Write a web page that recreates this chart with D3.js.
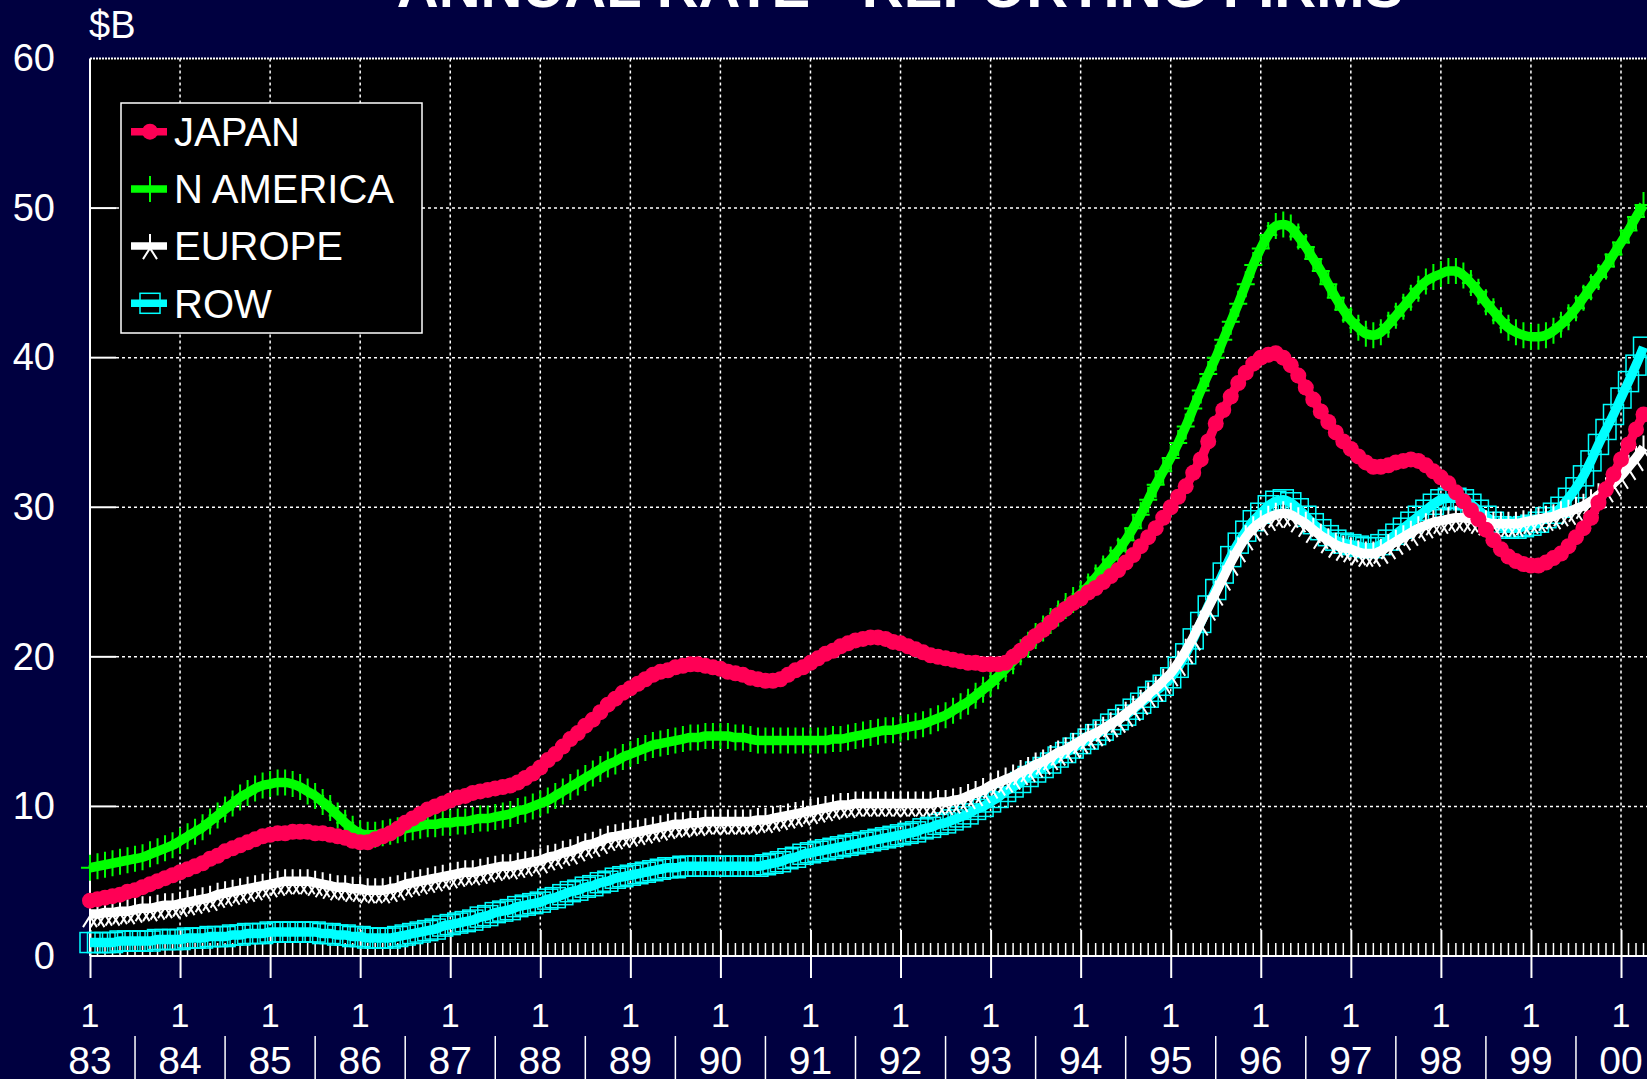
<!DOCTYPE html>
<html>
<head>
<meta charset="utf-8">
<script src="https://cdn.jsdelivr.net/npm/d3@7"></script>
<style>
  html, body { margin: 0; padding: 0; background: #000040; overflow: hidden; }
  svg { display: block; font-family: "Liberation Sans", Arial, sans-serif; }
</style>
</head>
<body>
<svg id="chart" width="1647" height="1079"></svg>
<script>
// ---- chart text ----
const title = "ANNUAL RATE - REPORTING FIRMS";
const unitLabel = "$B";
const monthLabel = "1";
const yearLabels = ["83","84","85","86","87","88","89","90","91","92","93","94","95","96","97","98","99","00"];
const yTicks = [0, 10, 20, 30, 40, 50, 60];
const startYear = 1983;

// ---- monthly annual-rate values, $B, January 1983 onward ----
const japan = [
  3.7, 3.8, 3.9, 4.0, 4.1, 4.3, 4.4, 4.6, 4.8, 5.0, 5.2, 5.4,
  5.6, 5.8, 6.0, 6.2, 6.5, 6.7, 7.0, 7.2, 7.4, 7.6, 7.8, 8.0,
  8.1, 8.2, 8.2, 8.3, 8.3, 8.3, 8.2, 8.2, 8.1, 8.0, 7.9, 7.7,
  7.6, 7.6, 7.8, 8.0, 8.2, 8.5, 8.9, 9.2, 9.5, 9.8, 10.0, 10.2,
  10.4, 10.6, 10.7, 10.9, 11.0, 11.1, 11.2, 11.3, 11.4, 11.6, 11.9, 12.2,
  12.6, 13.1, 13.5, 14.0, 14.5, 14.9, 15.4, 15.8, 16.3, 16.8, 17.2, 17.6,
  17.9, 18.2, 18.5, 18.8, 19.0, 19.1, 19.3, 19.4, 19.5, 19.5, 19.4, 19.3,
  19.2, 19.0, 18.9, 18.8, 18.6, 18.5, 18.4, 18.4, 18.5, 18.8, 19.1, 19.3,
  19.6, 19.9, 20.2, 20.4, 20.7, 20.9, 21.1, 21.2, 21.3, 21.3, 21.2, 21.0,
  20.9, 20.7, 20.5, 20.3, 20.1, 20.0, 19.9, 19.8, 19.7, 19.6, 19.6, 19.5,
  19.5, 19.5, 19.6, 20.0, 20.4, 20.9, 21.4, 21.8, 22.3, 22.8, 23.2, 23.6,
  23.9, 24.3, 24.6, 25.0, 25.4, 25.8, 26.3, 26.8, 27.4, 28.0, 28.6, 29.3,
  30.0, 30.7, 31.4, 32.3, 33.2, 34.4, 35.6, 36.5, 37.4, 38.3, 39.0, 39.6,
  40.0, 40.2, 40.3, 40.0, 39.5, 38.8, 38.0, 37.2, 36.4, 35.7, 35.0, 34.4,
  33.9, 33.4, 33.0, 32.7, 32.7, 32.8, 33.0, 33.1, 33.2, 33.1, 32.8, 32.4,
  32.0, 31.6, 31.0, 30.4, 29.8, 29.2, 28.5, 27.8, 27.2, 26.7, 26.4, 26.2,
  26.1, 26.1, 26.3, 26.6, 26.9, 27.4, 28.0, 28.6, 29.3, 30.3, 31.2, 32.2,
  33.2, 34.2, 35.2, 36.2
];

const nAmerica = [
  5.9, 6.0, 6.1, 6.2, 6.3, 6.4, 6.5, 6.6, 6.8, 7.0, 7.2, 7.4,
  7.7, 8.0, 8.3, 8.6, 9.0, 9.4, 9.8, 10.2, 10.6, 10.9, 11.2, 11.4,
  11.5, 11.6, 11.6, 11.5, 11.3, 11.0, 10.7, 10.3, 9.9, 9.4, 8.9, 8.5,
  8.2, 8.1, 8.1, 8.2, 8.3, 8.4, 8.5, 8.6, 8.7, 8.8, 8.8, 8.9,
  8.9, 9.0, 9.0, 9.1, 9.2, 9.2, 9.3, 9.4, 9.5, 9.7, 9.8, 10.0,
  10.2, 10.4, 10.7, 11.0, 11.3, 11.6, 11.9, 12.2, 12.5, 12.8, 13.0, 13.3,
  13.5, 13.7, 13.9, 14.1, 14.2, 14.3, 14.4, 14.5, 14.6, 14.6, 14.7, 14.7,
  14.7, 14.7, 14.6, 14.6, 14.5, 14.4, 14.4, 14.4, 14.4, 14.4, 14.4, 14.4,
  14.4, 14.4, 14.4, 14.5, 14.5, 14.6, 14.7, 14.8, 14.9, 15.0, 15.1, 15.1,
  15.2, 15.3, 15.4, 15.5, 15.7, 15.9, 16.1, 16.4, 16.7, 17.0, 17.4, 17.8,
  18.2, 18.7, 19.2, 19.7, 20.3, 20.8, 21.4, 21.9, 22.4, 22.9, 23.4, 23.8,
  24.2, 24.7, 25.3, 25.9, 26.5, 27.1, 27.8, 28.6, 29.5, 30.5, 31.5, 32.4,
  33.3, 34.3, 35.4, 36.6, 37.8, 38.9, 40.0, 41.2, 42.4, 43.6, 44.9, 46.2,
  47.3, 48.2, 48.8, 48.9, 48.7, 48.1, 47.4, 46.6, 45.8, 44.9, 44.0, 43.2,
  42.5, 42.0, 41.6, 41.5, 41.7, 42.2, 42.8, 43.4, 44.0, 44.6, 45.1, 45.4,
  45.6, 45.8, 45.8, 45.5, 45.0, 44.4, 43.7, 43.1, 42.5, 42.0, 41.7, 41.5,
  41.4, 41.4, 41.5, 41.8, 42.2, 42.7, 43.3, 44.0, 44.7, 45.4, 46.1, 46.9,
  47.7, 48.5, 49.4, 50.2
];

const europe = [
  2.8, 2.8, 2.9, 2.9, 3.0, 3.0, 3.1, 3.2, 3.2, 3.3, 3.4, 3.4,
  3.5, 3.6, 3.7, 3.8, 3.9, 4.1, 4.2, 4.3, 4.4, 4.5, 4.6, 4.7,
  4.8, 4.9, 5.0, 5.0, 5.0, 5.0, 4.9, 4.8, 4.7, 4.6, 4.6, 4.5,
  4.5, 4.4, 4.4, 4.4, 4.5, 4.6, 4.8, 4.9, 5.0, 5.1, 5.2, 5.3,
  5.4, 5.5, 5.6, 5.6, 5.7, 5.8, 5.9, 6.0, 6.0, 6.1, 6.2, 6.3,
  6.4, 6.6, 6.7, 6.9, 7.0, 7.2, 7.4, 7.5, 7.7, 7.9, 8.0, 8.1,
  8.2, 8.3, 8.4, 8.5, 8.6, 8.7, 8.8, 8.8, 8.9, 8.9, 9.0, 9.0,
  9.0, 9.0, 9.0, 9.0, 9.0, 9.1, 9.1, 9.2, 9.3, 9.4, 9.5, 9.6,
  9.7, 9.8, 9.9, 10.0, 10.1, 10.1, 10.2, 10.2, 10.2, 10.2, 10.2, 10.2,
  10.2, 10.2, 10.2, 10.2, 10.2, 10.3, 10.3, 10.4, 10.5, 10.7, 10.9, 11.1,
  11.4, 11.6, 11.8, 12.0, 12.3, 12.5, 12.8, 13.0, 13.3, 13.6, 13.8, 14.1,
  14.4, 14.7, 14.9, 15.2, 15.5, 15.8, 16.2, 16.6, 17.0, 17.5, 17.9, 18.4,
  18.9, 19.6, 20.4, 21.3, 22.3, 23.3, 24.3, 25.3, 26.3, 27.2, 28.0, 28.6,
  29.0, 29.3, 29.5, 29.6, 29.5, 29.2, 28.9, 28.5, 28.1, 27.8, 27.5, 27.3,
  27.2, 27.0, 26.9, 26.9, 27.1, 27.4, 27.7, 28.0, 28.3, 28.6, 28.8, 29.0,
  29.1, 29.2, 29.3, 29.3, 29.2, 29.1, 29.0, 28.9, 28.9, 28.9, 28.9, 29.0,
  29.1, 29.2, 29.3, 29.4, 29.6, 29.7, 29.9, 30.1, 30.4, 30.8, 31.2, 31.6,
  32.1, 32.7, 33.3, 34.0
];

const row = [
  0.9, 0.9, 0.9, 0.9, 1.0, 1.0, 1.0, 1.0, 1.0, 1.1, 1.1, 1.1,
  1.1, 1.2, 1.2, 1.2, 1.3, 1.3, 1.3, 1.4, 1.4, 1.5, 1.5, 1.5,
  1.6, 1.6, 1.6, 1.6, 1.6, 1.6, 1.6, 1.5, 1.5, 1.4, 1.4, 1.3,
  1.3, 1.2, 1.2, 1.2, 1.2, 1.3, 1.4, 1.5, 1.6, 1.7, 1.8, 2.0,
  2.1, 2.2, 2.3, 2.4, 2.6, 2.7, 2.9, 3.0, 3.1, 3.3, 3.4, 3.5,
  3.6, 3.8, 3.9, 4.1, 4.3, 4.4, 4.6, 4.7, 4.9, 5.0, 5.2, 5.3,
  5.4, 5.5, 5.6, 5.7, 5.8, 5.9, 5.9, 6.0, 6.0, 6.0, 6.0, 6.0,
  6.0, 6.0, 6.0, 6.0, 6.0, 6.0, 6.1, 6.2, 6.3, 6.5, 6.6, 6.8,
  6.9, 7.0, 7.1, 7.2, 7.3, 7.4, 7.5, 7.6, 7.7, 7.8, 7.9, 8.0,
  8.1, 8.2, 8.3, 8.5, 8.6, 8.8, 8.9, 9.1, 9.3, 9.5, 9.8, 10.0,
  10.3, 10.6, 11.0, 11.3, 11.6, 12.0, 12.3, 12.6, 12.9, 13.3, 13.6, 13.9,
  14.2, 14.5, 14.8, 15.1, 15.5, 15.8, 16.1, 16.5, 16.9, 17.3, 17.7, 18.1,
  18.6, 19.3, 20.2, 21.2, 22.3, 23.4, 24.5, 25.6, 26.7, 27.6, 28.4, 29.1,
  29.6, 30.1, 30.4, 30.5, 30.3, 29.9, 29.4, 28.9, 28.5, 28.1, 27.8, 27.6,
  27.5, 27.4, 27.3, 27.3, 27.5, 27.8, 28.2, 28.6, 29.0, 29.4, 29.8, 30.2,
  30.5, 30.6, 30.6, 30.5, 30.2, 29.8, 29.4, 29.0, 28.7, 28.6, 28.6, 28.7,
  28.8, 29.0, 29.3, 29.6, 30.0, 30.6, 31.3, 32.1, 33.1, 34.2, 35.2, 36.2,
  37.3, 38.4, 39.5, 40.7
];

// ---- layout ----
const W = 1647, H = 1079;
const plotLeft = 90, plotTop = 58.5, plotBottom = 956;
const innerTick = 26, outerTick = 22, minorTick = 13;

const svg = d3.select("#chart");
svg.append("rect").attr("width", W).attr("height", H).attr("fill", "#000040");

const x = d3.scaleLinear().domain([startYear, startYear + yearLabels.length - 1]).range([plotLeft, 1621]);
const y = d3.scaleLinear().domain([0, 60]).range([plotBottom, plotTop]);
const years = yearLabels.map((_, i) => startYear + i);

// plot background
svg.append("rect")
  .attr("x", plotLeft).attr("y", plotTop)
  .attr("width", W - plotLeft).attr("height", plotBottom - plotTop)
  .attr("fill", "#000");

// title, running off the top edge
svg.append("text")
  .attr("x", 900).attr("y", 7)
  .attr("text-anchor", "middle")
  .attr("fill", "#fff")
  .attr("font-size", 58).attr("font-weight", "bold")
  .text(title);

svg.append("text")
  .attr("x", 89).attr("y", 38)
  .attr("fill", "#fff").attr("font-size", 38)
  .text(unitLabel);

// ---- grid ----
const grid = svg.append("g").attr("stroke", "#fff").attr("stroke-width", 1.5).attr("stroke-dasharray", "3,3");
grid.selectAll("line.v").data(years.slice(1)).join("line")
  .attr("x1", d => x(d)).attr("x2", d => x(d))
  .attr("y1", plotTop).attr("y2", plotBottom - innerTick);
grid.selectAll("line.h").data(yTicks.filter(v => v > 0 && v < 60)).join("line")
  .attr("x1", plotLeft + innerTick).attr("x2", W)
  .attr("y1", d => y(d)).attr("y2", d => y(d));
svg.append("line")
  .attr("x1", plotLeft).attr("x2", W)
  .attr("y1", y(60)).attr("y2", y(60))
  .attr("stroke", "#fff").attr("stroke-width", 2).attr("stroke-dasharray", "2,1");

// ---- y axis ----
const yAxis = svg.append("g").attr("transform", `translate(${plotLeft},0)`)
  .call(d3.axisLeft(y).tickValues(yTicks).tickSize(0).tickPadding(35));
yAxis.select(".domain").remove();
yAxis.selectAll("text").attr("fill", "#fff").attr("font-size", 38)
  .attr("font-family", "'Liberation Sans', Arial, sans-serif");
// inward solid tick stubs
svg.append("g").selectAll("line").data(yTicks.filter(v => v > 0 && v < 60)).join("line")
  .attr("x1", plotLeft).attr("x2", plotLeft + innerTick)
  .attr("y1", d => y(d)).attr("y2", d => y(d))
  .attr("stroke", "#fff").attr("stroke-width", 2);
svg.append("line")
  .attr("x1", plotLeft).attr("x2", plotLeft)
  .attr("y1", plotTop).attr("y2", plotBottom)
  .attr("stroke", "#fff").attr("stroke-width", 2);

// ---- x axis ----
const months = d3.range(0, 17 * 12 + 6).map(m => startYear + m / 12);
svg.append("g").selectAll("line").data(months.filter((_, i) => i % 12 !== 0)).join("line")
  .attr("x1", d => x(d)).attr("x2", d => x(d))
  .attr("y1", plotBottom).attr("y2", plotBottom - minorTick)
  .attr("stroke", "#fff").attr("stroke-width", 1.5);

const xAxis = svg.append("g").attr("transform", `translate(0,${plotBottom})`)
  .call(d3.axisBottom(x).tickValues(years).tickSize(outerTick).tickSizeOuter(0).tickFormat(""));
xAxis.select(".domain").attr("d", `M${plotLeft},0H${W}`).attr("stroke", "#fff").attr("stroke-width", 2);
xAxis.selectAll(".tick line").attr("stroke", "#fff").attr("stroke-width", 2)
  .attr("y1", -innerTick);

const labels = svg.append("g").attr("fill", "#fff").attr("text-anchor", "middle");
labels.selectAll("text.m").data(years).join("text")
  .attr("x", d => x(d)).attr("y", 1027)
  .attr("font-size", 34).text(monthLabel);
labels.selectAll("text.yr").data(yearLabels).join("text")
  .attr("x", (d, i) => x(years[i])).attr("y", 1074)
  .attr("font-size", 39).text(d => d);
svg.append("g").selectAll("line").data(years).join("line")
  .attr("x1", d => x(d + 0.5)).attr("x2", d => x(d + 0.5))
  .attr("y1", 1036).attr("y2", H)
  .attr("stroke", "#fff").attr("stroke-width", 1.5);

// ---- series ----
const markers = {
  circle: (g, c) => g.append("circle").attr("r", 8).attr("fill", c),
  plus: (g, c) => g.append("path").attr("d", "M-9,0H9M0,-13V13")
    .attr("stroke", c).attr("stroke-width", 2).attr("fill", "none"),
  star: (g, c) => g.append("path").attr("d", "M0,-12V3M0,2L-7,13M0,2L7,13")
    .attr("stroke", c).attr("stroke-width", 2).attr("fill", "none"),
  square: (g, c) => g.append("rect").attr("x", -10).attr("y", -10)
    .attr("width", 20).attr("height", 20)
    .attr("stroke", c).attr("stroke-width", 1.5).attr("fill", "none")
};

const series = [
  { name: "JAPAN", values: japan, color: "#ff0055", marker: "circle" },
  { name: "N AMERICA", values: nAmerica, color: "#00ff00", marker: "plus" },
  { name: "EUROPE", values: europe, color: "#ffffff", marker: "star" },
  { name: "ROW", values: row, color: "#00ffff", marker: "square" }
];

const line = d3.line()
  .x((d, i) => x(startYear + i / 12))
  .y(d => y(d))
  .curve(d3.curveMonotoneX);

// drawn bottom-up so Japan sits on top
series.slice().reverse().forEach(s => {
  const g = svg.append("g");
  g.selectAll("g.pt").data(s.values).join("g")
    .attr("transform", (d, i) => `translate(${x(startYear + i / 12)},${y(d)})`)
    .each(function () { markers[s.marker](d3.select(this), s.color); });
  g.append("path").datum(s.values)
    .attr("d", line)
    .attr("fill", "none")
    .attr("stroke", s.color)
    .attr("stroke-width", 9.5)
    .attr("stroke-linejoin", "round");
});

// ---- legend ----
const legend = svg.append("g");
legend.append("rect")
  .attr("x", 121).attr("y", 103).attr("width", 301).attr("height", 230)
  .attr("fill", "#000").attr("stroke", "#fff").attr("stroke-width", 1.5);
series.forEach((s, i) => {
  const cy = 131.7 + i * 57.2;
  const row = legend.append("g").attr("transform", `translate(0,${cy})`);
  const mk = row.append("g").attr("transform", "translate(150,0)");
  markers[s.marker](mk, s.color);
  row.append("line").attr("x1", 131).attr("x2", 167)
    .attr("stroke", s.color).attr("stroke-width", 7.5);
  row.append("text").attr("x", 174).attr("y", 14.3)
    .attr("fill", "#fff").attr("font-size", 40).text(s.name);
});
</script>
</body>
</html>
